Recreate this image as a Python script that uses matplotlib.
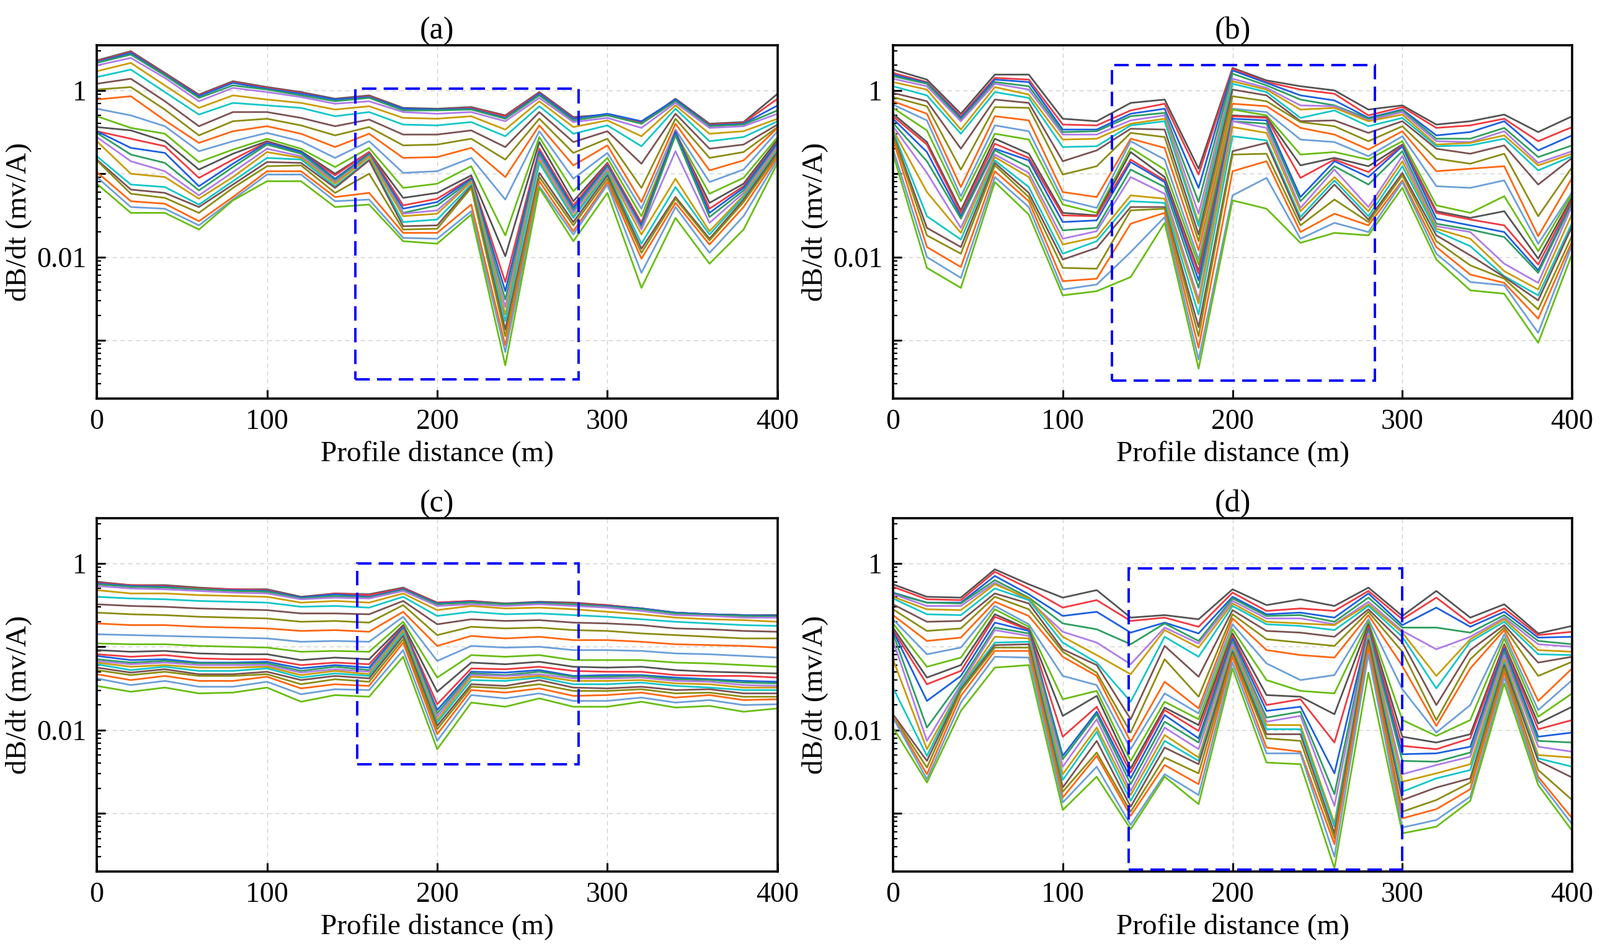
import numpy as np
import matplotlib
matplotlib.use("Agg")
import matplotlib.pyplot as plt
from matplotlib.patches import Rectangle
from matplotlib.ticker import LogLocator, FuncFormatter, NullFormatter, MultipleLocator

plt.rcParams["font.family"] = ["Liberation Serif", "DejaVu Serif"]

# Profile stations (m)
x_m = [0, 20, 40, 60, 80, 100, 120, 140, 160, 180, 200,
       220, 240, 260, 280, 300, 320, 340, 360, 380, 400]

# log10 of dB/dt (mv/A), one row per station, 24 time gates per row (early -> late)
log_a = [
    [0.36, 0.35, 0.34, 0.33, 0.30, 0.23, 0.16, 0.08, 0.01, -0.11, -0.22, -0.31, -0.44, -0.49, -0.49, -0.51, -0.56, -0.61, -0.79, -0.83, -0.84, -0.98, -1.04, -1.12],
    [0.47, 0.46, 0.45, 0.43, 0.39, 0.33, 0.25, 0.14, 0.04, -0.07, -0.30, -0.45, -0.48, -0.58, -0.69, -0.77, -0.85, -1.00, -1.13, -1.19, -1.24, -1.33, -1.40, -1.47],
    [0.21, 0.20, 0.19, 0.18, 0.15, 0.06, -0.02, -0.13, -0.23, -0.36, -0.43, -0.52, -0.61, -0.67, -0.75, -0.87, -0.97, -1.04, -1.16, -1.23, -1.29, -1.36, -1.42, -1.47],
    [-0.05, -0.06, -0.07, -0.09, -0.13, -0.21, -0.29, -0.43, -0.54, -0.63, -0.73, -0.86, -0.95, -1.05, -1.15, -1.20, -1.26, -1.30, -1.37, -1.40, -1.47, -1.57, -1.62, -1.67],
    [0.11, 0.10, 0.09, 0.06, 0.03, -0.06, -0.15, -0.26, -0.37, -0.49, -0.61, -0.71, -0.76, -0.83, -0.88, -0.92, -0.98, -1.04, -1.09, -1.13, -1.17, -1.28, -1.31, -1.32],
    [0.04, 0.03, 0.02, 0.01, -0.02, -0.11, -0.18, -0.26, -0.34, -0.43, -0.51, -0.58, -0.61, -0.62, -0.63, -0.65, -0.70, -0.74, -0.81, -0.86, -0.91, -0.97, -1.01, -1.09],
    [-0.02, -0.03, -0.04, -0.06, -0.08, -0.15, -0.21, -0.33, -0.42, -0.52, -0.61, -0.70, -0.73, -0.75, -0.74, -0.76, -0.79, -0.81, -0.83, -0.87, -0.90, -0.97, -1.01, -1.09],
    [-0.10, -0.11, -0.11, -0.13, -0.16, -0.23, -0.31, -0.43, -0.54, -0.68, -0.81, -0.92, -1.00, -1.02, -1.06, -1.08, -1.10, -1.12, -1.15, -1.17, -1.23, -1.28, -1.33, -1.40],
    [-0.06, -0.07, -0.08, -0.09, -0.13, -0.19, -0.26, -0.35, -0.44, -0.52, -0.61, -0.69, -0.74, -0.74, -0.76, -0.77, -0.79, -0.80, -0.83, -0.84, -1.00, -1.23, -1.31, -1.37],
    [-0.21, -0.22, -0.22, -0.24, -0.26, -0.33, -0.41, -0.53, -0.66, -0.81, -0.99, -1.17, -1.29, -1.38, -1.42, -1.47, -1.48, -1.51, -1.58, -1.63, -1.67, -1.71, -1.77, -1.81],
    [-0.22, -0.23, -0.23, -0.24, -0.28, -0.34, -0.42, -0.53, -0.65, -0.80, -0.97, -1.12, -1.23, -1.30, -1.34, -1.38, -1.44, -1.48, -1.55, -1.62, -1.66, -1.71, -1.78, -1.84],
    [-0.20, -0.21, -0.22, -0.23, -0.26, -0.31, -0.38, -0.48, -0.58, -0.69, -0.81, -0.91, -1.02, -1.05, -1.06, -1.08, -1.09, -1.10, -1.13, -1.15, -1.17, -1.37, -1.45, -1.49],
    [-0.30, -0.31, -0.33, -0.34, -0.37, -0.47, -0.55, -0.68, -0.83, -1.04, -1.31, -1.74, -1.99, -2.30, -2.41, -2.51, -2.60, -2.69, -2.77, -2.87, -2.95, -3.06, -3.14, -3.30],
    [-0.02, -0.03, -0.04, -0.06, -0.09, -0.13, -0.19, -0.26, -0.34, -0.42, -0.49, -0.56, -0.62, -0.70, -0.73, -0.77, -0.80, -0.84, -0.87, -0.99, -1.04, -1.09, -1.15, -1.17],
    [-0.32, -0.33, -0.34, -0.36, -0.38, -0.44, -0.52, -0.62, -0.75, -0.90, -1.06, -1.21, -1.33, -1.38, -1.41, -1.44, -1.47, -1.51, -1.53, -1.58, -1.62, -1.69, -1.73, -1.81],
    [-0.29, -0.29, -0.28, -0.30, -0.33, -0.36, -0.42, -0.49, -0.58, -0.66, -0.75, -0.81, -0.87, -0.88, -0.90, -0.92, -0.94, -0.97, -0.99, -1.02, -1.06, -1.10, -1.13, -1.23],
    [-0.39, -0.38, -0.37, -0.40, -0.45, -0.55, -0.67, -0.88, -1.17, -1.34, -1.42, -1.51, -1.59, -1.59, -1.62, -1.65, -1.67, -1.73, -1.84, -1.90, -1.95, -2.02, -2.19, -2.37],
    [-0.10, -0.11, -0.11, -0.13, -0.15, -0.18, -0.22, -0.28, -0.34, -0.40, -0.47, -0.51, -0.52, -0.49, -0.50, -0.54, -0.73, -1.06, -1.16, -1.28, -1.30, -1.35, -1.40, -1.53],
    [-0.40, -0.41, -0.42, -0.43, -0.45, -0.52, -0.61, -0.70, -0.81, -0.96, -1.10, -1.24, -1.35, -1.42, -1.47, -1.52, -1.59, -1.69, -1.73, -1.78, -1.80, -1.85, -1.95, -2.08],
    [-0.38, -0.39, -0.40, -0.41, -0.43, -0.49, -0.56, -0.65, -0.74, -0.84, -0.95, -1.05, -1.12, -1.15, -1.17, -1.20, -1.23, -1.26, -1.28, -1.31, -1.34, -1.40, -1.51, -1.67],
    [-0.04, -0.10, -0.18, -0.24, -0.28, -0.34, -0.37, -0.41, -0.44, -0.45, -0.49, -0.56, -0.59, -0.62, -0.63, -0.66, -0.67, -0.70, -0.72, -0.74, -0.77, -0.80, -0.83, -0.87],
]

log_b = [
    [0.25, 0.21, 0.19, 0.17, 0.14, 0.10, 0.05, -0.03, -0.08, -0.13, -0.17, -0.21, -0.28, -0.31, -0.34, -0.39, -0.43, -0.47, -0.49, -0.52, -0.54, -0.59, -0.70, -0.76],
    [0.13, 0.10, 0.09, 0.08, 0.05, 0.01, -0.06, -0.13, -0.19, -0.28, -0.36, -0.48, -0.62, -0.65, -0.74, -0.85, -0.99, -1.22, -1.51, -1.65, -1.74, -1.88, -2.00, -2.13],
    [-0.28, -0.31, -0.33, -0.35, -0.37, -0.47, -0.52, -0.70, -0.95, -1.16, -1.27, -1.33, -1.44, -1.47, -1.51, -1.54, -1.65, -1.71, -1.79, -1.88, -1.96, -2.12, -2.25, -2.37],
    [0.19, 0.15, 0.13, 0.10, 0.08, 0.04, -0.02, -0.11, -0.20, -0.31, -0.42, -0.52, -0.58, -0.64, -0.70, -0.72, -0.77, -0.80, -0.84, -0.87, -0.90, -0.97, -1.04, -1.10],
    [0.19, 0.13, 0.10, 0.05, 0.01, -0.05, -0.09, -0.15, -0.21, -0.36, -0.49, -0.59, -0.76, -0.81, -0.84, -0.92, -0.99, -1.04, -1.16, -1.23, -1.28, -1.33, -1.40, -1.49],
    [-0.34, -0.41, -0.47, -0.50, -0.53, -0.59, -0.68, -0.85, -1.01, -1.22, -1.31, -1.37, -1.47, -1.50, -1.58, -1.68, -1.78, -1.85, -1.96, -2.03, -2.13, -2.29, -2.39, -2.46],
    [-0.37, -0.42, -0.47, -0.49, -0.53, -0.58, -0.67, -0.72, -0.91, -1.28, -1.41, -1.47, -1.50, -1.51, -1.56, -1.65, -1.69, -1.76, -1.81, -1.89, -2.14, -2.26, -2.33, -2.41],
    [-0.15, -0.24, -0.28, -0.31, -0.36, -0.40, -0.42, -0.46, -0.51, -0.58, -0.61, -0.69, -0.74, -0.83, -0.86, -0.95, -1.04, -1.26, -1.33, -1.40, -1.44, -1.60, -1.94, -2.24],
    [-0.11, -0.16, -0.22, -0.27, -0.30, -0.34, -0.37, -0.47, -0.56, -0.69, -0.83, -0.95, -1.04, -1.08, -1.10, -1.16, -1.24, -1.30, -1.35, -1.40, -1.42, -1.47, -1.52, -1.59],
    [-0.94, -1.01, -1.17, -1.34, -1.48, -1.59, -1.63, -1.73, -1.81, -1.92, -2.03, -2.09, -2.17, -2.20, -2.28, -2.37, -2.51, -2.56, -2.69, -2.84, -2.95, -3.09, -3.23, -3.34],
    [0.27, 0.26, 0.24, 0.20, 0.14, 0.11, 0.08, 0.01, -0.07, -0.16, -0.22, -0.23, -0.30, -0.31, -0.34, -0.37, -0.37, -0.44, -0.55, -0.73, -0.77, -0.97, -1.26, -1.32],
    [0.12, 0.10, 0.09, 0.06, 0.03, 0.01, -0.02, -0.06, -0.13, -0.19, -0.26, -0.30, -0.32, -0.33, -0.36, -0.40, -0.45, -0.51, -0.60, -0.63, -0.76, -0.85, -1.05, -1.42],
    [0.05, 0.01, -0.06, -0.11, -0.18, -0.23, -0.33, -0.37, -0.38, -0.45, -0.59, -0.77, -0.90, -1.05, -1.28, -1.33, -1.41, -1.45, -1.52, -1.56, -1.62, -1.70, -1.78, -1.83],
    [0.00, -0.04, -0.12, -0.18, -0.19, -0.21, -0.24, -0.36, -0.43, -0.53, -0.62, -0.74, -0.81, -0.83, -0.85, -0.91, -0.95, -1.04, -1.08, -1.13, -1.31, -1.48, -1.59, -1.71],
    [-0.23, -0.30, -0.33, -0.34, -0.36, -0.37, -0.43, -0.51, -0.61, -0.71, -0.79, -0.83, -0.91, -0.98, -1.04, -1.13, -1.40, -1.45, -1.51, -1.55, -1.58, -1.62, -1.70, -1.74],
    [-0.18, -0.20, -0.23, -0.24, -0.26, -0.29, -0.33, -0.37, -0.43, -0.49, -0.55, -0.61, -0.65, -0.66, -0.67, -0.73, -0.79, -0.85, -0.91, -0.99, -1.02, -1.08, -1.10, -1.17],
    [-0.41, -0.45, -0.54, -0.58, -0.61, -0.65, -0.67, -0.70, -0.82, -0.97, -1.15, -1.38, -1.45, -1.47, -1.54, -1.60, -1.63, -1.66, -1.69, -1.74, -1.81, -1.88, -1.96, -2.03],
    [-0.37, -0.42, -0.50, -0.58, -0.62, -0.63, -0.66, -0.76, -0.88, -0.94, -1.17, -1.47, -1.53, -1.55, -1.62, -1.67, -1.70, -1.78, -1.87, -1.98, -2.10, -2.21, -2.30, -2.40],
    [-0.29, -0.34, -0.37, -0.45, -0.49, -0.54, -0.58, -0.66, -0.76, -0.91, -1.08, -1.27, -1.45, -1.62, -1.70, -1.76, -2.08, -2.17, -2.23, -2.24, -2.26, -2.31, -2.34, -2.44],
    [-0.50, -0.61, -0.72, -0.80, -0.87, -0.90, -0.96, -1.13, -1.51, -1.75, -1.84, -1.93, -2.02, -2.09, -2.16, -2.19, -2.31, -2.39, -2.46, -2.52, -2.63, -2.74, -2.91, -3.03],
    [-0.31, -0.44, -0.54, -0.66, -0.73, -0.76, -0.79, -0.81, -0.92, -1.05, -1.22, -1.24, -1.28, -1.31, -1.34, -1.35, -1.38, -1.48, -1.59, -1.63, -1.74, -1.81, -1.85, -1.96],
]

log_c = [
    [-0.22, -0.23, -0.24, -0.25, -0.27, -0.32, -0.40, -0.49, -0.59, -0.72, -0.85, -0.96, -1.04, -1.09, -1.11, -1.15, -1.17, -1.19, -1.21, -1.25, -1.28, -1.33, -1.38, -1.47],
    [-0.26, -0.26, -0.27, -0.28, -0.30, -0.36, -0.42, -0.51, -0.61, -0.74, -0.86, -0.97, -1.06, -1.12, -1.16, -1.19, -1.21, -1.24, -1.28, -1.31, -1.34, -1.40, -1.46, -1.54],
    [-0.26, -0.27, -0.28, -0.29, -0.31, -0.36, -0.43, -0.52, -0.62, -0.74, -0.87, -0.97, -1.05, -1.10, -1.15, -1.17, -1.19, -1.22, -1.24, -1.27, -1.30, -1.35, -1.41, -1.49],
    [-0.29, -0.30, -0.31, -0.31, -0.33, -0.38, -0.45, -0.54, -0.64, -0.76, -0.88, -0.99, -1.08, -1.14, -1.19, -1.20, -1.22, -1.25, -1.29, -1.33, -1.35, -1.41, -1.48, -1.56],
    [-0.31, -0.31, -0.32, -0.33, -0.35, -0.39, -0.46, -0.55, -0.65, -0.77, -0.89, -1.00, -1.09, -1.15, -1.19, -1.20, -1.22, -1.25, -1.29, -1.33, -1.35, -1.41, -1.48, -1.55],
    [-0.31, -0.32, -0.33, -0.34, -0.36, -0.40, -0.47, -0.56, -0.66, -0.78, -0.90, -1.01, -1.09, -1.15, -1.18, -1.20, -1.22, -1.24, -1.26, -1.30, -1.33, -1.36, -1.42, -1.49],
    [-0.40, -0.41, -0.41, -0.42, -0.43, -0.47, -0.52, -0.60, -0.70, -0.81, -0.94, -1.06, -1.16, -1.22, -1.26, -1.29, -1.31, -1.34, -1.37, -1.40, -1.45, -1.50, -1.57, -1.66],
    [-0.36, -0.36, -0.37, -0.39, -0.41, -0.45, -0.51, -0.60, -0.69, -0.80, -0.93, -1.05, -1.13, -1.19, -1.22, -1.24, -1.27, -1.29, -1.32, -1.35, -1.39, -1.45, -1.51, -1.58],
    [-0.37, -0.38, -0.40, -0.41, -0.42, -0.47, -0.53, -0.61, -0.71, -0.82, -0.94, -1.06, -1.15, -1.21, -1.25, -1.28, -1.30, -1.33, -1.35, -1.38, -1.42, -1.47, -1.52, -1.60],
    [-0.29, -0.30, -0.31, -0.32, -0.33, -0.36, -0.40, -0.45, -0.50, -0.58, -0.64, -0.70, -0.74, -0.76, -0.77, -0.79, -0.80, -0.81, -0.84, -0.87, -0.91, -0.95, -1.04, -1.12],
    [-0.47, -0.47, -0.48, -0.49, -0.51, -0.56, -0.63, -0.73, -0.86, -0.99, -1.17, -1.37, -1.54, -1.69, -1.76, -1.80, -1.84, -1.88, -1.91, -1.95, -1.99, -2.05, -2.13, -2.23],
    [-0.45, -0.45, -0.46, -0.47, -0.49, -0.51, -0.58, -0.67, -0.76, -0.87, -0.99, -1.10, -1.19, -1.26, -1.30, -1.32, -1.34, -1.36, -1.40, -1.45, -1.48, -1.52, -1.58, -1.67],
    [-0.48, -0.49, -0.49, -0.49, -0.51, -0.54, -0.61, -0.69, -0.78, -0.90, -1.01, -1.12, -1.21, -1.27, -1.31, -1.34, -1.35, -1.38, -1.41, -1.47, -1.50, -1.55, -1.62, -1.72],
    [-0.46, -0.47, -0.47, -0.48, -0.49, -0.53, -0.60, -0.68, -0.77, -0.88, -1.00, -1.10, -1.18, -1.24, -1.28, -1.30, -1.33, -1.35, -1.37, -1.40, -1.45, -1.50, -1.56, -1.62],
    [-0.47, -0.48, -0.49, -0.49, -0.51, -0.55, -0.62, -0.71, -0.80, -0.92, -1.04, -1.16, -1.24, -1.29, -1.35, -1.36, -1.38, -1.41, -1.45, -1.49, -1.53, -1.59, -1.65, -1.72],
    [-0.50, -0.50, -0.51, -0.52, -0.53, -0.58, -0.64, -0.72, -0.81, -0.92, -1.04, -1.16, -1.25, -1.30, -1.34, -1.36, -1.38, -1.41, -1.45, -1.50, -1.53, -1.58, -1.65, -1.72],
    [-0.54, -0.54, -0.54, -0.55, -0.57, -0.61, -0.67, -0.74, -0.84, -0.94, -1.05, -1.16, -1.24, -1.30, -1.34, -1.35, -1.37, -1.40, -1.43, -1.48, -1.51, -1.55, -1.61, -1.66],
    [-0.59, -0.59, -0.59, -0.60, -0.62, -0.65, -0.70, -0.78, -0.86, -0.97, -1.08, -1.19, -1.28, -1.34, -1.37, -1.39, -1.41, -1.44, -1.47, -1.52, -1.56, -1.61, -1.67, -1.73],
    [-0.61, -0.61, -0.61, -0.62, -0.63, -0.67, -0.72, -0.79, -0.88, -0.98, -1.09, -1.20, -1.30, -1.35, -1.39, -1.40, -1.42, -1.45, -1.49, -1.51, -1.55, -1.58, -1.64, -1.71],
    [-0.62, -0.62, -0.62, -0.63, -0.65, -0.68, -0.74, -0.81, -0.90, -0.99, -1.11, -1.22, -1.31, -1.35, -1.41, -1.43, -1.46, -1.49, -1.52, -1.56, -1.60, -1.64, -1.70, -1.78],
    [-0.62, -0.63, -0.63, -0.64, -0.65, -0.70, -0.75, -0.82, -0.90, -1.01, -1.13, -1.24, -1.32, -1.37, -1.42, -1.44, -1.47, -1.49, -1.52, -1.56, -1.60, -1.63, -1.69, -1.74],
]

log_d = [
    [-0.25, -0.28, -0.35, -0.36, -0.37, -0.40, -0.42, -0.49, -0.55, -0.62, -0.67, -0.72, -0.77, -0.80, -0.81, -0.84, -0.92, -1.15, -1.49, -1.81, -1.83, -1.84, -1.85, -1.97],
    [-0.40, -0.43, -0.47, -0.47, -0.51, -0.55, -0.61, -0.70, -0.81, -0.93, -1.09, -1.24, -1.37, -1.45, -1.65, -1.97, -2.13, -2.23, -2.31, -2.37, -2.45, -2.53, -2.59, -2.63],
    [-0.41, -0.44, -0.47, -0.48, -0.51, -0.56, -0.62, -0.69, -0.78, -0.89, -1.01, -1.13, -1.22, -1.29, -1.35, -1.41, -1.45, -1.48, -1.48, -1.51, -1.53, -1.59, -1.67, -1.77],
    [-0.07, -0.10, -0.15, -0.20, -0.23, -0.25, -0.30, -0.36, -0.40, -0.46, -0.51, -0.55, -0.61, -0.64, -0.71, -0.77, -0.80, -0.88, -0.95, -0.98, -1.01, -1.05, -1.12, -1.25],
    [-0.25, -0.30, -0.37, -0.41, -0.44, -0.42, -0.44, -0.48, -0.55, -0.63, -0.73, -0.76, -0.79, -0.80, -0.81, -0.84, -0.87, -0.90, -0.94, -0.97, -1.01, -1.05, -1.13, -1.22],
    [-0.41, -0.53, -0.63, -0.72, -0.82, -0.88, -0.95, -1.03, -1.06, -1.12, -1.35, -1.63, -1.83, -2.08, -2.31, -2.35, -2.44, -2.53, -2.60, -2.69, -2.74, -2.81, -2.87, -2.96],
    [-0.32, -0.44, -0.58, -0.79, -0.95, -1.10, -1.19, -1.22, -1.31, -1.35, -1.46, -1.53, -1.59, -1.72, -1.78, -1.81, -1.87, -1.97, -2.02, -2.13, -2.27, -2.31, -2.44, -2.56],
    [-0.65, -0.69, -0.83, -0.97, -1.21, -1.33, -1.66, -1.87, -2.03, -2.14, -2.23, -2.37, -2.46, -2.51, -2.58, -2.65, -2.73, -2.78, -2.85, -2.92, -2.98, -3.03, -3.14, -3.19],
    [-0.62, -0.65, -0.71, -0.72, -0.77, -0.80, -0.88, -0.99, -1.15, -1.42, -1.56, -1.66, -1.73, -1.76, -1.82, -1.90, -1.97, -2.06, -2.13, -2.21, -2.33, -2.42, -2.53, -2.56],
    [-0.67, -0.76, -0.84, -0.93, -0.96, -1.01, -1.12, -1.36, -1.60, -1.74, -1.80, -1.87, -1.94, -2.01, -2.10, -2.15, -2.23, -2.33, -2.37, -2.41, -2.52, -2.65, -2.78, -2.89],
    [-0.31, -0.35, -0.40, -0.42, -0.45, -0.48, -0.51, -0.56, -0.61, -0.66, -0.73, -0.79, -0.84, -0.87, -0.90, -0.94, -0.97, -1.01, -1.04, -1.06, -1.09, -1.12, -1.19, -1.26],
    [-0.50, -0.57, -0.61, -0.63, -0.66, -0.70, -0.73, -0.81, -0.91, -1.04, -1.20, -1.40, -1.58, -1.70, -1.77, -1.85, -1.90, -1.94, -1.99, -2.05, -2.10, -2.21, -2.28, -2.39],
    [-0.43, -0.54, -0.59, -0.62, -0.66, -0.72, -0.75, -0.83, -0.95, -1.10, -1.40, -1.53, -1.60, -1.63, -1.72, -1.78, -1.83, -1.94, -1.99, -2.05, -2.13, -2.26, -2.28, -2.41],
    [-0.51, -0.57, -0.65, -0.70, -0.73, -0.74, -0.80, -0.88, -0.99, -1.13, -1.34, -1.56, -1.81, -2.15, -2.52, -2.77, -2.91, -3.12, -3.16, -3.24, -3.30, -3.37, -3.52, -3.66],
    [-0.29, -0.33, -0.36, -0.41, -0.46, -0.49, -0.51, -0.55, -0.58, -0.62, -0.67, -0.70, -0.73, -0.76, -0.79, -0.81, -0.84, -0.87, -0.90, -0.92, -0.97, -1.01, -1.09, -1.31],
    [-0.63, -0.67, -0.74, -0.77, -0.81, -0.83, -0.88, -0.95, -1.06, -1.23, -1.51, -1.88, -2.08, -2.19, -2.29, -2.37, -2.53, -2.62, -2.74, -2.84, -2.98, -3.06, -3.17, -3.24],
    [-0.33, -0.41, -0.53, -0.77, -1.03, -1.35, -1.50, -1.70, -1.88, -1.95, -2.03, -2.07, -2.15, -2.23, -2.28, -2.38, -2.42, -2.52, -2.58, -2.69, -2.84, -2.95, -3.08, -3.16],
    [-0.65, -0.72, -0.76, -0.83, -0.88, -0.91, -0.94, -1.04, -1.15, -1.26, -1.70, -1.88, -2.05, -2.10, -2.20, -2.27, -2.32, -2.41, -2.48, -2.58, -2.63, -2.71, -2.80, -2.85],
    [-0.49, -0.54, -0.58, -0.62, -0.65, -0.67, -0.70, -0.74, -0.77, -0.80, -0.85, -0.90, -0.97, -0.99, -1.02, -1.06, -1.10, -1.15, -1.19, -1.22, -1.26, -1.31, -1.37, -1.44],
    [-0.84, -0.86, -0.89, -0.93, -0.97, -1.04, -1.09, -1.19, -1.35, -1.65, -1.76, -1.84, -1.92, -1.99, -2.08, -2.13, -2.20, -2.30, -2.34, -2.37, -2.48, -2.56, -2.60, -2.66],
    [-0.75, -0.82, -0.88, -0.97, -1.00, -1.06, -1.10, -1.12, -1.18, -1.26, -1.40, -1.56, -1.72, -1.88, -2.03, -2.15, -2.26, -2.33, -2.44, -2.57, -2.84, -3.06, -3.13, -3.21],
]

panel_titles = ["(a)", "(b)", "(c)", "(d)"]
# anomaly windows: (x from, x to, dB/dt low, dB/dt high)
boxes = [(152, 283, 3.4e-4, 1.05),
         (129, 284, 3.3e-4, 2.0),
         (153, 283, 3.85e-3, 1.0),
         (139, 300, 2.1e-4, 0.875)]

gate_colors = ["#535353", "#f0393f", "#1c5fe0", "#2e9e5e", "#b07be6", "#c99c00",
               "#12c6c8", "#7b5252", "#8c8c12", "#ff6611", "#6c9fd8", "#68bd12"]

fig = plt.figure(figsize=(25.8, 15.31), dpi=100)
axes_pos = [[0.0605, 0.580, 0.4255, 0.3725],
            [0.5581, 0.580, 0.4245, 0.3725],
            [0.0605, 0.0816, 0.4255, 0.3724],
            [0.5581, 0.0816, 0.4245, 0.3724]]

def decade_label(v, pos):
    if np.isclose(v, 1.0):
        return "1"
    if np.isclose(v, 0.01):
        return "0.01"
    return ""

for pos, title, logs, box in zip(axes_pos, panel_titles, [log_a, log_b, log_c, log_d], boxes):
    ax = fig.add_axes(pos)
    vals = 10 ** np.array(logs).T
    for i, row in enumerate(vals):
        ax.plot(x_m, row, color=gate_colors[i % len(gate_colors)], lw=2.0)

    ax.add_patch(Rectangle((box[0], box[2]), box[1] - box[0], box[3] - box[2],
                           fill=False, edgecolor="#0000ff", lw=2.8,
                           linestyle=(0, (6, 3)), zorder=5))

    ax.set_yscale("log")
    ax.set_xlim(0, 400)
    ax.set_ylim(2.0e-4, 3.5)
    ax.xaxis.set_major_locator(MultipleLocator(100))
    ax.yaxis.set_major_locator(LogLocator(base=10, numticks=20))
    ax.yaxis.set_minor_locator(LogLocator(base=10, subs=np.arange(2, 10), numticks=20))
    ax.yaxis.set_major_formatter(FuncFormatter(decade_label))
    ax.yaxis.set_minor_formatter(NullFormatter())

    ax.grid(True, which="major", color="#cfcfcf", linestyle=(0, (5, 4)), lw=1.0)
    ax.set_axisbelow(True)
    ax.tick_params(which="both", direction="in", top=False, right=False,
                   labelsize=33, pad=12)
    ax.tick_params(which="major", length=10, width=2.2)
    ax.tick_params(which="minor", length=5, width=1.6)
    for sp in ax.spines.values():
        sp.set_linewidth(2.6)

    ax.set_title(title, fontsize=36, pad=6)
    ax.set_xlabel("Profile distance (m)", fontsize=34, labelpad=6)
    ax.set_ylabel("dB/dt (mv/A)", fontsize=34, labelpad=6)

fig.savefig("out.png", dpi=100)
